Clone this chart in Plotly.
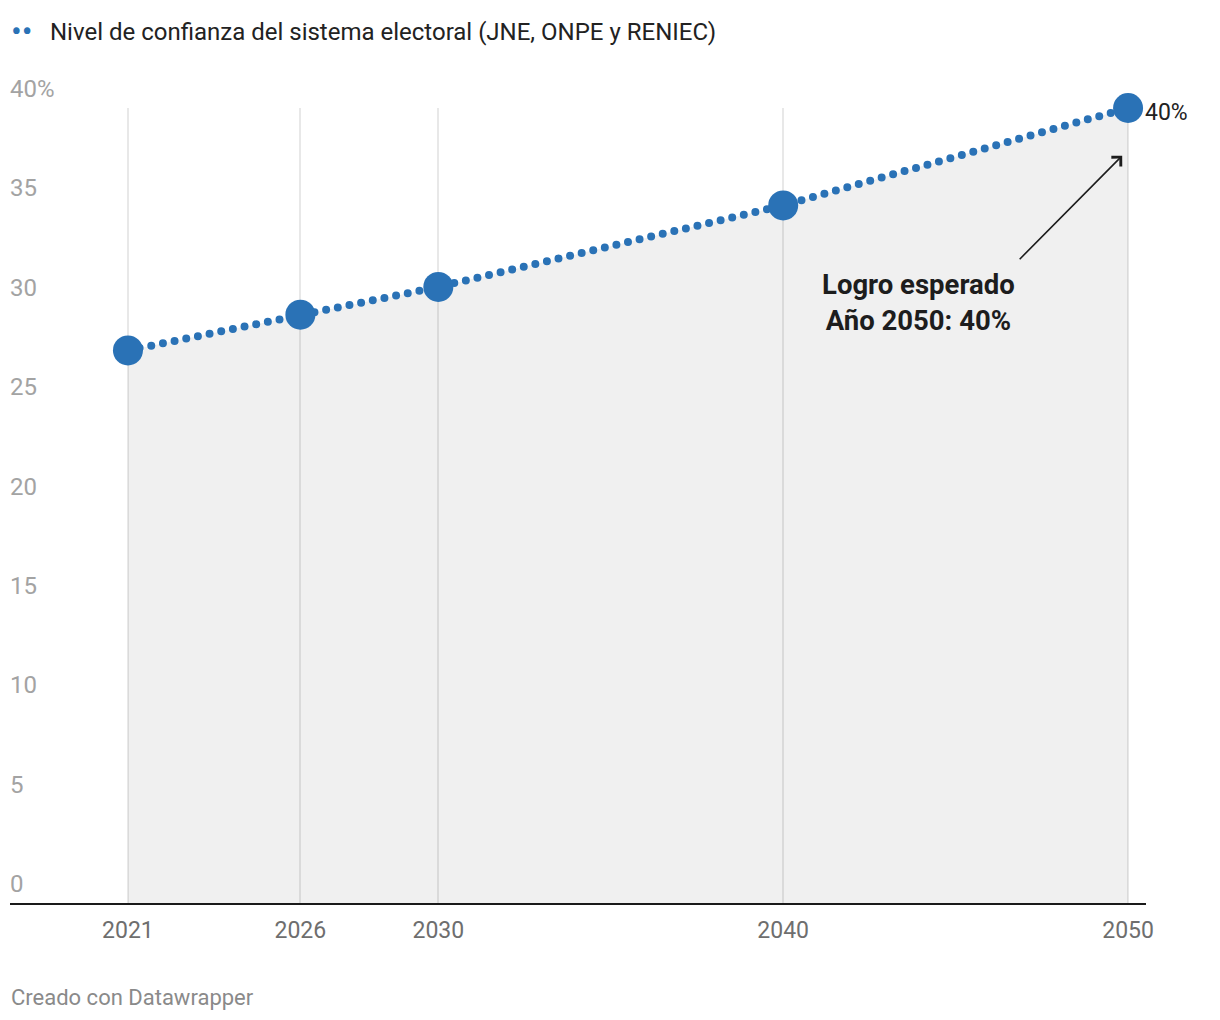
import plotly.graph_objects as go

years = [2021, 2026, 2030, 2040, 2050]
values = [27.8, 29.6, 31.0, 35.1, 40.0]
ytick_vals = [0, 5, 10, 15, 20, 25, 30, 35, 40]
ytick_text = ["0", "5", "10", "15", "20", "25", "30", "35", "40%"]
series_name = "Nivel de confianza del sistema electoral (JNE, ONPE y RENIEC)"
note_text = "<b>Logro esperado<br>Año 2050: 40%</b>"
last_label = "40%"
credit = "Creado con Datawrapper"

BLUE = "#2a72b6"
FONT = "Roboto"

fig = go.Figure()

# filled area + dotted line
fig.add_trace(go.Scatter(
    x=years, y=values, mode="lines",
    line=dict(color=BLUE, width=6, dash="dot"),
    fill="tozeroy", fillcolor="rgba(0,0,0,0.06)",
    hoverinfo="skip", showlegend=False, cliponaxis=False,
))
# markers
fig.add_trace(go.Scatter(
    x=years, y=values, mode="markers",
    marker=dict(color=BLUE, size=30, line=dict(width=0)),
    name=series_name, showlegend=False, cliponaxis=False,
))

annotations = []
# y-axis labels (Datawrapper style, above the value line)
for v, t in zip(ytick_vals, ytick_text):
    annotations.append(dict(
        x=0, xref="paper", y=v, yref="y", text=t, showarrow=False,
        xanchor="left", yanchor="bottom", yshift=3, xshift=-2,
        font=dict(family=FONT, size=24, color="#a3a3a3"),
    ))

# last value label
annotations.append(dict(
    x=years[-1], y=values[-1], xref="x", yref="y", text=last_label,
    showarrow=False, xanchor="left", yanchor="middle", xshift=15, yshift=-4,
    font=dict(family=FONT, size=23, color="#222222"),
))

# note text
annotations.append(dict(
    x=2043.92, y=30.2, xref="x", yref="y", text=note_text, showarrow=False,
    xanchor="center", yanchor="middle",
    font=dict(family=FONT, size=27.5, color="#1d1d1d"),
))
# arrow
annotations.append(dict(
    x=2049.83, y=37.6, xref="x", yref="y", text="", showarrow=True,
    axref="pixel", ayref="pixel", ax=-104, ay=105,
    arrowhead=4, arrowsize=1.6, arrowwidth=1.6, arrowcolor="#1d1d1d",
    standoff=0, startstandoff=0,
))

# legend
annotations.append(dict(
    x=0, xref="paper", y=1, yref="paper", xanchor="left", yanchor="middle",
    yshift=77, xshift=-1, showarrow=False, text="••",
    font=dict(family=FONT, size=32, color=BLUE),
))
annotations.append(dict(
    x=0, xref="paper", y=1, yref="paper", xanchor="left", yanchor="middle",
    yshift=76, xshift=38, showarrow=False, text=series_name,
    font=dict(family=FONT, size=24, color="#222222"),
))
# credit
annotations.append(dict(
    x=0, xref="paper", y=0, yref="paper", xanchor="left", yanchor="middle",
    yshift=-94, xshift=-1, showarrow=False, text=credit,
    font=dict(family=FONT, size=22, color="#8a8a8a"),
))

fig.update_layout(
    width=1212, height=1012,
    margin=dict(l=2, r=74, t=100, b=117),
    paper_bgcolor="white", plot_bgcolor="white",
    font=dict(family=FONT),
    xaxis=dict(
        range=[2017.58, 2050.52], tickvals=years,
        ticktext=[str(y) for y in years],
        showgrid=True, gridcolor="#e8e8e8", gridwidth=1.5,
        zeroline=False, showline=True, linecolor="#1a1a1a", linewidth=2,
        ticks="", ticklabelstandoff=5,
        tickfont=dict(family=FONT, size=23, color="#6e6e6e"),
        fixedrange=True,
    ),
    yaxis=dict(
        range=[0, 40], showgrid=False, zeroline=False, showticklabels=False,
        showline=False, fixedrange=True,
    ),
    annotations=annotations,
    showlegend=False,
)

post = """
var gd = document.getElementById('{plot_id}');
gd.querySelectorAll('path.js-line').forEach(function(p){
  p.style.strokeLinecap = 'round';
  p.style.strokeDasharray = '0px,11.9px';
  p.style.strokeWidth = '8px';
});
"""

fig.write_html("out.html", post_script=post)
